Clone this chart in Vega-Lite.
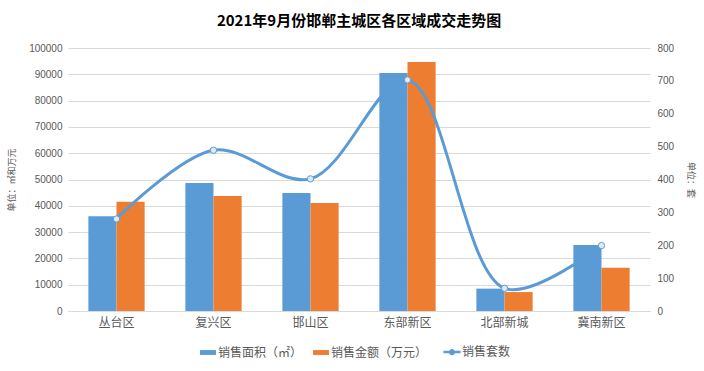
{
  "$schema": "https://vega.github.io/schema/vega-lite/v6.json",
  "width": 582,
  "height": 263,
  "autosize": {"type": "none"},
  "padding": {"left": 68, "top": 48, "right": 54, "bottom": 60},
  "background": "white",
  "title": {
    "text": "2021年9月份邯郸主城区各区域成交走势图",
    "font": "Noto Sans CJK SC",
    "fontSize": 15,
    "fontWeight": "bold",
    "color": "#000000",
    "anchor": "middle",
    "offset": 14
  },
  "datasets": {
    "bars": [
      {"district": "丛台区", "series": "销售面积（㎡）", "value": 36000},
      {"district": "丛台区", "series": "销售金额（万元）", "value": 41500},
      {"district": "复兴区", "series": "销售面积（㎡）", "value": 48700},
      {"district": "复兴区", "series": "销售金额（万元）", "value": 43700},
      {"district": "邯山区", "series": "销售面积（㎡）", "value": 44900},
      {"district": "邯山区", "series": "销售金额（万元）", "value": 41100},
      {"district": "东部新区", "series": "销售面积（㎡）", "value": 90500},
      {"district": "东部新区", "series": "销售金额（万元）", "value": 94700},
      {"district": "北部新城", "series": "销售面积（㎡）", "value": 8500},
      {"district": "北部新城", "series": "销售金额（万元）", "value": 7200},
      {"district": "冀南新区", "series": "销售面积（㎡）", "value": 25100},
      {"district": "冀南新区", "series": "销售金额（万元）", "value": 16400}
    ],
    "units": [
      {"district": "丛台区", "series": "销售套数", "units": 280},
      {"district": "复兴区", "series": "销售套数", "units": 489},
      {"district": "邯山区", "series": "销售套数", "units": 402},
      {"district": "东部新区", "series": "销售套数", "units": 703},
      {"district": "北部新城", "series": "销售套数", "units": 69},
      {"district": "冀南新区", "series": "销售套数", "units": 199}
    ]
  },
  "encoding": {
    "x": {
      "field": "district",
      "type": "nominal",
      "sort": ["丛台区", "复兴区", "邯山区", "东部新区", "北部新城", "冀南新区"],
      "scale": {"paddingInner": 0.42, "paddingOuter": 0.21},
      "axis": {
        "title": null,
        "labelAngle": 0,
        "labelFont": "Noto Sans CJK SC",
        "labelFontSize": 12,
        "labelColor": "#595959",
        "labelPadding": 6,
        "ticks": false,
        "domainColor": "#D9D9D9",
        "domainWidth": 1
      }
    },
    "color": {
      "field": "series",
      "type": "nominal",
      "scale": {"domain": ["销售面积（㎡）", "销售金额（万元）", "销售套数"], "range": ["#5B9BD5", "#ED7D31", "#5B9BD5"]},
      "legend": {
        "title": null,
        "orient": "none",
        "legendX": 134,
        "legendY": 298,
        "direction": "horizontal",
        "symbolSize": 150,
        "labelFont": "Noto Sans CJK SC",
        "labelFontSize": 12,
        "labelColor": "#595959",
        "columnPadding": 10,
        "labelOffset": 4,
        "encode": {
          "symbols": {
            "update": {
              "shape": {"signal": "datum.value === '销售套数' ? 'M-1.4,0H-0.3M0.3,0H1.4M-0.3,0A0.3,0.3 0 1,1 0.3,0A0.3,0.3 0 1,1 -0.3,0' : 'M-1.3,-0.4H1.3V0.4H-1.3Z'"},
              "strokeWidth": {"signal": "datum.value === '销售套数' ? 2.5 : 0"},
              "stroke": {"value": "#5B9BD5"},
              "fill": [
                {"test": "datum.value === '销售套数'", "value": "#DDEBF7"},
                {"test": "datum.value === '销售金额（万元）'", "value": "#ED7D31"},
                {"value": "#5B9BD5"}
              ],
              "fillOpacity": {"value": 1},
              "opacity": {"value": 1}
            }
          }
        }
      }
    }
  },
  "layer": [
    {
      "data": {"name": "bars"},
      "mark": {"type": "bar"},
      "encoding": {
        "xOffset": {"field": "series", "type": "nominal", "sort": ["销售面积（㎡）", "销售金额（万元）"], "scale": {"paddingInner": 0, "paddingOuter": 0}},
        "y": {
          "field": "value",
          "type": "quantitative",
          "scale": {"domain": [0, 100000]},
          "axis": {
            "title": "单位：㎡和万元",
            "titleFont": "Noto Sans CJK SC",
            "titleFontSize": 9,
            "titleFontWeight": "normal",
            "titleColor": "#595959",
            "titlePadding": 12,
            "values": [0, 10000, 20000, 30000, 40000, 50000, 60000, 70000, 80000, 90000, 100000],
            "format": "d",
            "labelFont": "Liberation Sans",
            "labelFontSize": 10,
            "labelColor": "#595959",
            "labelPadding": 6,
            "ticks": false,
            "domain": false,
            "grid": true,
            "gridColor": "#D9D9D9",
            "gridWidth": 1
          }
        }
      }
    },
    {
      "data": {"name": "units"},
      "mark": {"type": "line", "interpolate": "catmull-rom", "strokeWidth": 3, "point": {"filled": true, "fill": "#DDEBF7", "stroke": "#5B9BD5", "strokeWidth": 1, "size": 40}},
      "encoding": {
        "y": {
          "field": "units",
          "type": "quantitative",
          "scale": {"domain": [0, 800]},
          "axis": {
            "orient": "right",
            "title": "单位：套",
            "titleFont": "Noto Sans CJK SC",
            "titleFontSize": 9,
            "titleFontWeight": "normal",
            "titleColor": "#595959",
            "titlePadding": 12,
            "values": [0, 100, 200, 300, 400, 500, 600, 700, 800],
            "labelFont": "Liberation Sans",
            "labelFontSize": 10,
            "labelColor": "#595959",
            "labelPadding": 7,
            "ticks": false,
            "domain": false,
            "grid": false
          }
        }
      }
    }
  ],
  "resolve": {"scale": {"y": "independent"}},
  "config": {"view": {"stroke": null}}
}
